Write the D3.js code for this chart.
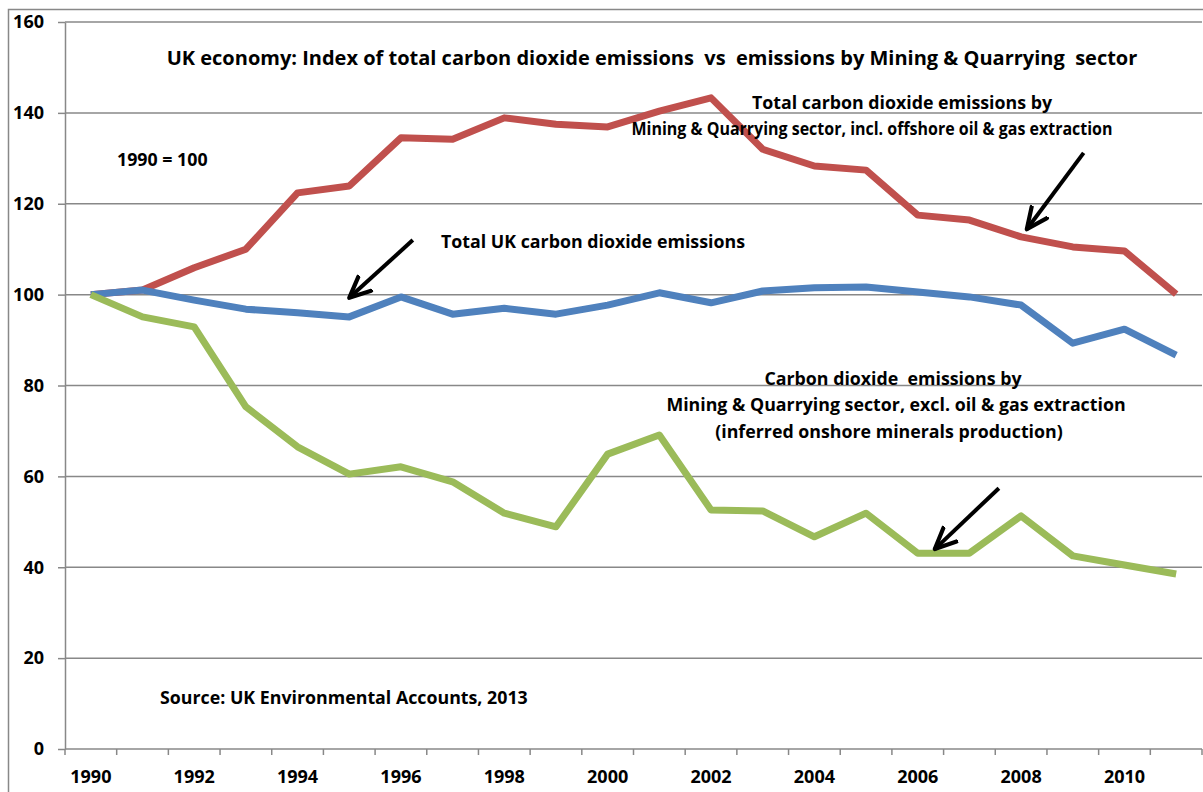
<!DOCTYPE html>
<html><head><meta charset="utf-8">
<script src="https://cdn.jsdelivr.net/npm/d3@7"></script>
<style>
body{margin:0;background:#fff;}
text{font-family:"Open Sans",sans-serif;font-weight:700;fill:#000;}
</style></head>
<body><svg id="c" width="1203" height="792"></svg>
<script>
const years = d3.range(1990, 2012);
const yTicks = [0,20,40,60,80,100,120,140,160];
const xTickLabels = [1990,1992,1994,1996,1998,2000,2002,2004,2006,2008,2010];
const miningIncl = [100,101,105.9,110,122.4,123.9,134.5,134.2,138.9,137.5,136.9,140.4,143.3,132,128.3,127.4,117.5,116.4,112.7,110.5,109.6,100.1];
const totalUK = [100,101,98.8,96.8,96,95.1,99.5,95.7,97,95.7,97.7,100.4,98.2,100.8,101.5,101.7,100.6,99.5,97.7,89.3,92.4,86.7];
const miningExcl = [100,95.1,92.9,75.3,66.5,60.5,62.1,58.8,51.9,48.9,64.9,69.1,52.6,52.4,46.7,51.9,43.1,43.1,51.3,42.5,40.5,38.5];
const seriesColors = ["#C0504D","#4F81BD","#9BBB59"];

(function(){
const svg = d3.select("#c");
const mL = 65, mR = 1202, mT = 22, mB = 749;

svg.append("rect").attr("x",8.5).attr("y",9.5).attr("width",1200).attr("height",790)
  .attr("fill","none").attr("stroke","#888").attr("stroke-width",1.5);

const xb = d3.scaleBand().domain(years).range([mL,mR]);
const x = yr => xb(Math.floor(yr)) + xb.bandwidth()/2 + (yr-Math.floor(yr))*xb.step();
const y = d3.scaleLinear().domain([0,160]).range([mB,mT]);

svg.append("g").selectAll("line").data(yTicks.filter(d=>d>0)).join("line")
  .attr("x1",mL).attr("x2",mR).attr("y1",d=>y(d)).attr("y2",d=>y(d))
  .attr("stroke","#888").attr("stroke-width",1.5);

const ya = svg.append("g").attr("transform",`translate(${mL},0)`)
  .call(d3.axisLeft(y).tickValues(yTicks).tickSize(7).tickPadding(14).tickSizeOuter(0));
ya.select(".domain").attr("stroke","#888").attr("stroke-width",1.5);
ya.selectAll(".tick line").attr("stroke","#888").attr("stroke-width",1.5);
ya.selectAll("text").attr("font-size",18).attr("font-family","Open Sans").attr("font-weight","700").attr("fill","#000");

const xa = svg.append("g").attr("transform",`translate(0,${mB})`);
xa.append("line").attr("x1",mL).attr("x2",mR).attr("stroke","#888").attr("stroke-width",1.5);
const bounds = years.map(d=>xb(d)).concat([xb(years[years.length-1])+xb.step()]);
xa.selectAll("line.t").data(bounds).join("line").attr("class","t")
  .attr("x1",d=>d).attr("x2",d=>d).attr("y1",0).attr("y2",6).attr("stroke","#888").attr("stroke-width",1.5);
xa.selectAll("text").data(xTickLabels).join("text")
  .attr("x",d=>x(d)).attr("y",34).attr("text-anchor","middle").attr("font-size",18).text(d=>d);

const line = d3.line().x((d,i)=>x(years[i])).y(d=>y(d));
[miningIncl,totalUK,miningExcl].forEach((s,k)=>{
  svg.append("path").datum(s).attr("d",line).attr("fill","none")
    .attr("stroke",seriesColors[k]).attr("stroke-width",7).attr("stroke-linejoin","round");
});

svg.append("defs").append("marker").attr("id","ah").attr("viewBox","0 0 10 10")
  .attr("refX",8).attr("refY",5).attr("markerWidth",7).attr("markerHeight",7).attr("orient","auto")
  .append("path").attr("d","M0.5,1.6 L8,5 L0.5,8.4").attr("fill","none").attr("stroke","#000").attr("stroke-width",1.5).attr("stroke-linecap","round").attr("stroke-linejoin","round");
const arrows = [
  {from:[1996.23,112],to:[1995.0,99.3]},
  {from:[2009.21,131.2],to:[2008.11,114.4]},
  {from:[2007.57,57.4],to:[2006.33,44.0]}
];
svg.append("g").selectAll("line").data(arrows).join("line")
  .attr("x1",d=>x(d.from[0])).attr("y1",d=>y(d.from[1]))
  .attr("x2",d=>x(d.to[0])).attr("y2",d=>y(d.to[1]))
  .attr("stroke","#000").attr("stroke-width",4).attr("marker-end","url(#ah)");

const T = (tx,ty,s,anchor,size,len)=>{
  const t = svg.append("text").attr("x",tx).attr("y",ty)
    .attr("text-anchor",anchor||"start").attr("font-size",size||17.8).attr("xml:space","preserve").text(s);
  if(len) t.attr("textLength",len).attr("lengthAdjust","spacingAndGlyphs");
  return t;
};
T(652,65,"UK economy: Index of total carbon dioxide emissions  vs  emissions by Mining & Quarrying  sector","middle",20);
T(117,166,"1990 = 100");
T(441,248,"Total UK carbon dioxide emissions");
T(902,109,"Total carbon dioxide emissions by","middle");
T(872,135,"Mining & Quarrying sector, incl. offshore oil & gas extraction","middle",17.8,481);
T(893,385,"Carbon dioxide  emissions by","middle");
T(896,411,"Mining & Quarrying sector, excl. oil & gas extraction","middle");
T(889,438,"(inferred onshore minerals production)","middle");
T(160,704,"Source: UK Environmental Accounts, 2013");
})();
</script></body></html>
